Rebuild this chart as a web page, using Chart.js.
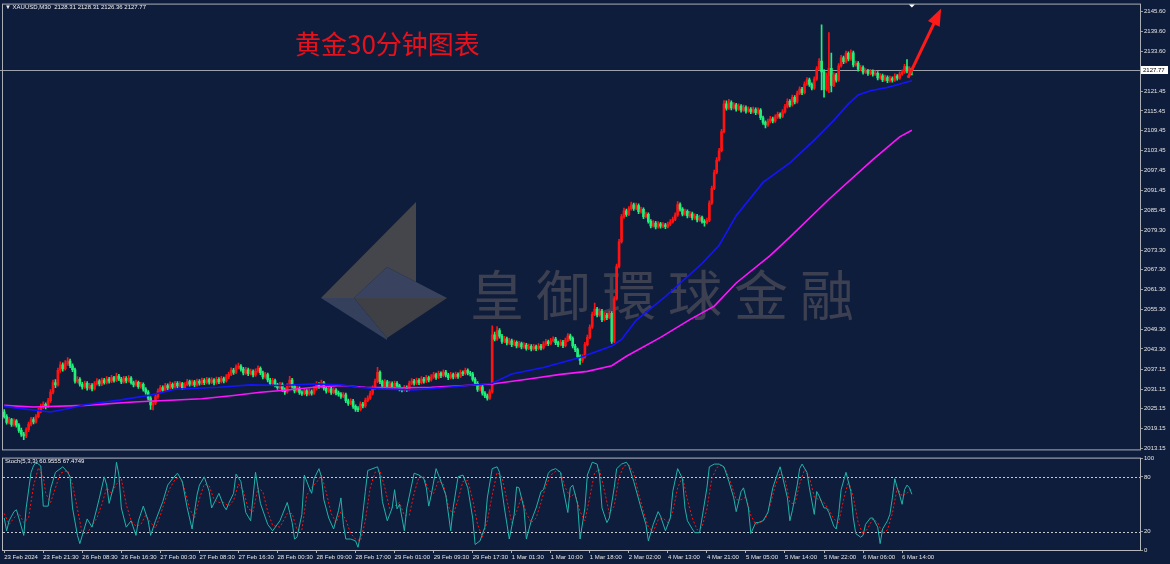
<!DOCTYPE html>
<html lang="zh">
<head>
<meta charset="utf-8">
<title>XAUUSD M30</title>
<script src="https://cdn.jsdelivr.net/npm/chart.js@4.4.0/dist/chart.umd.min.js"></script>
<style>
  html, body { margin: 0; padding: 0; }
  body { width: 1170px; height: 564px; background: #0f1d3c; position: relative; overflow: hidden; font-family: "Liberation Sans", Arial, sans-serif; }
  #logo { position: absolute; left: 0; top: 0; }
  .marca { position: absolute; left: 470px; top: 266px; font: 54px/54px "Noto Sans CJK TC", "Noto Sans CJK SC", sans-serif; letter-spacing: 12px; color: #3d4051; white-space: nowrap; }
  .titulo { position: absolute; left: 295px; top: 30px; font: 26px/26px "Noto Sans CJK SC", sans-serif; color: #e8101a; white-space: nowrap; }
  .info { position: absolute; color: #f0f0f0; font-size: 6px; line-height: 8px; white-space: nowrap; }
  canvas { position: absolute; left: 0; }
  #cPrecio { top: 0; }
  #cStoch { top: 454px; }
</style>
</head>
<body>
<svg id="logo" width="1170" height="564">
  <polygon points="416,202 416,282 387,267 354,298 321,298" fill="#45464c"/>
  <polygon points="387,267 447,298 354,298" fill="#394360"/>
  <polygon points="354,298 447,298 387,338" fill="#3f4045"/>
  <polygon points="321,298 354,298 387,338 387,340" fill="#35405c"/>
</svg>
<div class="marca">皇御環球金融</div>
<canvas id="cPrecio" width="1170" height="454"></canvas>
<canvas id="cStoch" width="1170" height="110"></canvas>
<div class="titulo">黄金30分钟图表</div>
<div class="info" style="left:5px;top:3px">▼ XAUUSD,M30&nbsp; 2128.31 2128.31 2126.36 2127.77</div>
<div class="info" style="left:5px;top:457px">Stoch(5,3,3) 60.9555 67.4749</div>
<script>
// --- DATOS ---
// velas M30: [apertura, máximo, mínimo, cierre]
const velas = [
  [2024.2,2024.9,2022.3,2022.8],[2022.8,2023.4,2020.5,2021.0],[2021.0,2022.6,2020.6,2021.9],[2021.9,2022.3,2019.8,2020.4],
  [2020.4,2022.1,2019.9,2021.5],[2021.5,2021.9,2019.6,2020.2],[2020.2,2020.7,2018.0,2018.6],[2018.6,2019.3,2016.8,2017.5],
  [2017.5,2018.0,2015.8,2016.9],[2016.9,2019.4,2016.4,2018.8],[2018.8,2021.1,2018.2,2020.5],[2020.5,2022.6,2020.0,2021.9],
  [2021.9,2022.5,2020.6,2021.2],[2021.2,2023.4,2020.8,2022.8],[2022.8,2025.3,2022.4,2024.6],[2024.6,2026.6,2024.0,2025.8],
  [2025.8,2027.3,2025.2,2026.5],[2026.5,2027.0,2025.1,2025.9],[2025.9,2028.3,2025.5,2027.6],[2027.6,2031.0,2027.1,2030.2],
  [2030.2,2033.9,2029.7,2033.1],[2033.1,2034.0,2031.6,2032.4],[2032.4,2037.5,2032.0,2036.8],[2036.8,2039.4,2036.2,2038.5],
  [2038.5,2039.1,2036.6,2037.3],[2037.3,2039.8,2036.9,2038.9],[2038.9,2040.7,2038.3,2039.6],[2039.6,2040.2,2037.6,2038.2],
  [2038.2,2038.8,2036.4,2037.0],[2037.0,2037.5,2032.9,2033.5],[2033.5,2034.9,2033.0,2034.1],[2034.1,2034.6,2032.0,2032.6],
  [2032.6,2033.2,2031.1,2031.8],[2031.8,2033.6,2031.3,2032.9],[2032.9,2033.4,2030.8,2031.5],[2031.5,2032.9,2031.0,2032.3],
  [2032.3,2032.8,2030.6,2031.2],[2031.2,2033.4,2030.8,2032.8],[2032.8,2034.3,2032.3,2033.6],[2033.6,2034.0,2032.1,2032.7],
  [2032.7,2034.5,2032.2,2033.9],[2033.9,2034.4,2032.6,2033.1],[2033.1,2034.9,2032.7,2034.2],[2034.2,2034.7,2032.9,2033.5],
  [2033.5,2035.3,2033.1,2034.6],[2034.6,2035.0,2033.2,2033.8],[2033.8,2036.0,2033.4,2035.1],[2035.1,2035.6,2033.7,2034.2],
  [2034.2,2034.7,2032.8,2033.3],[2033.3,2035.0,2032.9,2034.4],[2034.4,2034.9,2033.0,2033.6],[2033.6,2035.2,2033.2,2034.5],
  [2034.5,2034.9,2032.6,2033.1],[2033.1,2033.6,2031.8,2032.4],[2032.4,2033.9,2032.0,2033.2],[2033.2,2033.6,2031.3,2031.9],
  [2031.9,2033.2,2031.4,2032.6],[2032.6,2033.0,2030.5,2031.1],[2031.1,2031.6,2029.6,2030.2],[2030.2,2030.7,2027.8,2028.4],
  [2028.4,2028.9,2025.0,2026.3],[2026.3,2027.6,2024.8,2026.9],[2026.9,2029.4,2026.4,2028.8],[2028.8,2031.2,2028.3,2030.5],
  [2030.5,2032.3,2030.0,2031.6],[2031.6,2032.1,2030.2,2030.8],[2030.8,2032.9,2030.4,2032.2],[2032.2,2032.7,2030.9,2031.5],
  [2031.5,2033.3,2031.1,2032.6],[2032.6,2033.0,2031.1,2031.7],[2031.7,2033.5,2031.3,2032.9],[2032.9,2033.4,2031.5,2032.1],
  [2032.1,2033.4,2031.7,2032.8],[2032.8,2033.2,2031.0,2031.6],[2031.6,2033.1,2031.2,2032.5],[2032.5,2034.1,2032.1,2033.4],
  [2033.4,2033.9,2032.0,2032.6],[2032.6,2033.9,2032.2,2033.3],[2033.3,2033.8,2031.9,2032.4],[2032.4,2034.2,2032.0,2033.5],
  [2033.5,2034.0,2032.3,2032.9],[2032.9,2034.5,2032.5,2033.8],[2033.8,2034.3,2032.5,2033.1],[2033.1,2034.7,2032.7,2034.0],
  [2034.0,2034.5,2032.6,2033.2],[2033.2,2034.6,2032.8,2033.9],[2033.9,2034.3,2032.4,2033.0],[2033.0,2034.8,2032.6,2034.1],
  [2034.1,2034.6,2032.8,2033.4],[2033.4,2035.0,2033.0,2034.3],[2034.3,2034.8,2033.0,2033.6],[2033.6,2035.5,2033.2,2034.8],
  [2034.8,2036.3,2034.3,2035.6],[2035.6,2037.6,2035.2,2036.9],[2036.9,2037.4,2035.6,2036.2],[2036.2,2038.5,2035.8,2037.8],
  [2037.8,2039.0,2037.3,2038.1],[2038.1,2038.6,2036.6,2037.2],[2037.2,2037.7,2035.4,2036.0],[2036.0,2037.7,2035.6,2037.0],
  [2037.0,2037.5,2035.2,2035.8],[2035.8,2037.2,2035.4,2036.5],[2036.5,2037.0,2034.8,2035.4],[2035.4,2037.3,2035.0,2036.6],
  [2036.6,2038.2,2036.2,2037.4],[2037.4,2037.9,2035.5,2036.1],[2036.1,2036.6,2034.2,2034.8],[2034.8,2036.2,2034.4,2035.5],
  [2035.5,2036.0,2033.3,2033.9],[2033.9,2034.4,2032.2,2032.8],[2032.8,2034.4,2032.4,2033.7],[2033.7,2034.2,2031.8,2032.4],
  [2032.4,2032.9,2031.0,2031.6],[2031.6,2033.2,2031.2,2032.5],[2032.5,2033.0,2030.4,2031.0],[2031.0,2031.5,2029.5,2030.3],
  [2030.3,2032.8,2029.9,2032.1],[2032.1,2035.0,2031.7,2033.9],[2033.9,2034.4,2031.4,2032.0],[2032.0,2032.5,2030.0,2030.6],
  [2030.6,2032.0,2030.2,2031.3],[2031.3,2031.8,2029.5,2030.1],[2030.1,2030.6,2029.2,2029.8],[2029.8,2031.3,2029.4,2030.6],
  [2030.6,2031.0,2029.1,2029.7],[2029.7,2031.1,2029.3,2030.4],[2030.4,2030.9,2029.3,2029.9],[2029.9,2031.9,2029.5,2031.2],
  [2031.2,2033.4,2030.8,2032.6],[2032.6,2033.1,2031.3,2031.9],[2031.9,2033.9,2031.5,2033.0],[2033.0,2033.5,2030.8,2031.4],
  [2031.4,2031.9,2029.9,2030.5],[2030.5,2031.9,2030.1,2031.2],[2031.2,2031.7,2029.5,2030.1],[2030.1,2031.5,2029.7,2030.8],
  [2030.8,2031.3,2029.4,2030.0],[2030.0,2030.5,2029.0,2029.6],[2029.6,2030.1,2028.3,2028.9],[2028.9,2030.1,2028.5,2029.4],
  [2029.4,2029.9,2027.0,2027.6],[2027.6,2028.1,2026.2,2026.8],[2026.8,2028.2,2026.4,2027.5],[2027.5,2028.0,2025.3,2025.9],
  [2025.9,2026.4,2024.4,2025.0],[2025.0,2025.8,2024.3,2024.9],[2024.9,2027.3,2024.5,2026.6],[2026.6,2027.1,2025.4,2026.0],
  [2026.0,2028.4,2025.6,2027.7],[2027.7,2029.1,2027.3,2028.4],[2028.4,2030.5,2028.0,2029.8],[2029.8,2032.1,2029.4,2031.4],
  [2031.4,2034.2,2031.0,2033.5],[2033.5,2037.7,2033.1,2036.2],[2036.2,2036.7,2032.8,2033.4],[2033.4,2033.9,2031.4,2032.0],
  [2032.0,2034.0,2031.6,2033.3],[2033.3,2033.8,2031.0,2031.6],[2031.6,2033.5,2031.2,2032.8],[2032.8,2033.3,2031.1,2031.7],
  [2031.7,2033.6,2031.3,2032.9],[2032.9,2033.4,2031.5,2032.1],[2032.1,2032.6,2030.6,2031.2],[2031.2,2031.7,2030.3,2030.9],
  [2030.9,2032.3,2030.5,2031.6],[2031.6,2032.1,2030.4,2031.0],[2031.0,2033.6,2030.6,2032.9],[2032.9,2034.3,2032.5,2033.6],
  [2033.6,2034.1,2032.3,2032.9],[2032.9,2034.5,2032.5,2033.8],[2033.8,2034.3,2032.5,2033.1],[2033.1,2034.9,2032.7,2034.2],
  [2034.2,2034.7,2032.9,2033.5],[2033.5,2035.3,2033.1,2034.6],[2034.6,2035.1,2033.3,2033.9],[2033.9,2035.5,2033.5,2034.8],
  [2034.8,2036.2,2034.4,2035.5],[2035.5,2036.0,2034.1,2034.7],[2034.7,2036.6,2034.3,2035.9],[2035.9,2036.4,2034.6,2035.2],
  [2035.2,2037.0,2034.8,2036.3],[2036.3,2036.8,2034.8,2035.4],[2035.4,2035.9,2034.0,2034.6],[2034.6,2036.2,2034.2,2035.5],
  [2035.5,2036.0,2034.2,2034.8],[2034.8,2036.3,2034.4,2035.6],[2035.6,2036.1,2034.4,2035.0],[2035.0,2036.9,2034.6,2036.2],
  [2036.2,2036.7,2035.2,2035.8],[2035.8,2037.5,2035.4,2036.8],[2036.8,2037.3,2035.4,2036.0],[2036.0,2036.5,2035.1,2035.7],
  [2035.7,2036.2,2033.5,2034.1],[2034.1,2034.6,2032.3,2032.9],[2032.9,2033.4,2030.4,2031.0],[2031.0,2032.5,2030.6,2031.8],
  [2031.8,2032.3,2029.3,2029.9],[2029.9,2030.4,2028.5,2029.1],[2029.1,2029.6,2027.8,2028.4],[2028.4,2031.0,2028.0,2030.3],
  [2030.3,2050.3,2029.9,2047.6],[2047.6,2048.4,2045.7,2046.3],[2046.3,2050.1,2045.9,2048.9],[2048.9,2049.5,2046.6,2047.2],
  [2047.2,2047.7,2045.0,2045.6],[2045.6,2047.1,2045.2,2046.4],[2046.4,2046.9,2044.5,2045.1],[2045.1,2046.5,2044.7,2045.8],
  [2045.8,2046.3,2044.0,2044.6],[2044.6,2046.0,2044.2,2045.3],[2045.3,2045.8,2043.6,2044.2],[2044.2,2045.6,2043.8,2044.9],
  [2044.9,2045.4,2043.3,2043.9],[2043.9,2045.2,2043.5,2044.5],[2044.5,2045.0,2042.9,2043.5],[2043.5,2044.8,2043.1,2044.1],
  [2044.1,2044.6,2042.7,2043.3],[2043.3,2044.7,2042.9,2044.0],[2044.0,2044.5,2042.8,2043.4],[2043.4,2044.9,2043.0,2044.2],
  [2044.2,2044.7,2043.0,2043.6],[2043.6,2045.5,2043.2,2044.8],[2044.8,2046.2,2044.4,2045.5],[2045.5,2046.0,2044.3,2044.9],
  [2044.9,2046.5,2044.5,2045.8],[2045.8,2047.0,2045.4,2046.3],[2046.3,2046.8,2044.6,2045.2],[2045.2,2045.7,2044.0,2044.6],
  [2044.6,2046.1,2044.2,2045.4],[2045.4,2045.9,2043.7,2044.3],[2044.3,2046.6,2043.9,2045.9],[2045.9,2048.0,2045.5,2047.3],
  [2047.3,2047.8,2045.9,2046.5],[2046.5,2047.0,2043.6,2044.2],[2044.2,2044.7,2042.5,2043.1],[2043.1,2043.6,2040.4,2041.0],
  [2041.0,2041.5,2038.6,2039.8],[2039.8,2041.6,2039.2,2040.9],[2040.9,2045.3,2040.5,2044.6],[2044.6,2047.5,2044.2,2046.8],
  [2046.8,2050.6,2046.4,2049.9],[2049.9,2054.5,2049.5,2053.8],[2053.8,2057.2,2053.4,2055.4],[2055.4,2055.9,2053.0,2053.6],
  [2053.6,2055.5,2053.2,2054.8],[2054.8,2055.3,2051.6,2052.2],[2052.2,2054.3,2051.8,2053.6],[2053.6,2054.1,2052.2,2052.8],
  [2052.8,2054.8,2052.4,2054.1],[2054.1,2054.6,2045.0,2045.6],[2045.6,2059.2,2045.2,2058.5],[2058.5,2069.0,2058.1,2068.3],
  [2068.3,2076.5,2067.9,2075.8],[2075.8,2084.1,2075.4,2083.4],[2083.4,2086.0,2082.9,2085.2],[2085.2,2085.7,2083.5,2084.1],
  [2084.1,2086.5,2083.7,2085.8],[2085.8,2087.8,2085.4,2087.0],[2087.0,2087.5,2085.3,2085.9],[2085.9,2087.5,2085.5,2086.8],
  [2086.8,2087.3,2084.3,2084.9],[2084.9,2086.3,2084.5,2085.6],[2085.6,2086.1,2082.8,2083.4],[2083.4,2084.8,2083.0,2084.1],
  [2084.1,2084.6,2081.4,2082.0],[2082.0,2082.5,2080.0,2080.6],[2080.6,2082.2,2080.2,2081.5],[2081.5,2082.0,2079.7,2080.3],
  [2080.3,2081.9,2079.9,2081.2],[2081.2,2081.7,2079.9,2080.5],[2080.5,2081.6,2080.1,2080.9],[2080.9,2081.4,2079.8,2080.4],
  [2080.4,2081.8,2080.0,2081.1],[2081.1,2082.5,2080.7,2081.8],[2081.8,2083.3,2081.4,2082.6],[2082.6,2084.6,2082.2,2083.9],
  [2083.9,2088.0,2083.5,2087.1],[2087.1,2087.6,2085.1,2085.7],[2085.7,2086.2,2083.6,2084.2],[2084.2,2085.7,2083.8,2085.0],
  [2085.0,2085.5,2083.0,2083.6],[2083.6,2085.0,2083.2,2084.3],[2084.3,2084.8,2082.4,2083.0],[2083.0,2084.3,2082.6,2083.6],
  [2083.6,2084.1,2081.8,2082.4],[2082.4,2083.8,2082.0,2083.1],[2083.1,2083.6,2081.4,2082.0],[2082.0,2082.5,2080.5,2081.6],
  [2081.6,2083.0,2081.2,2082.3],[2082.3,2088.2,2081.9,2087.5],[2087.5,2092.7,2087.1,2092.0],[2092.0,2097.5,2091.6,2096.8],
  [2096.8,2101.3,2096.4,2100.6],[2100.6,2104.1,2100.2,2103.4],[2103.4,2109.9,2103.0,2109.2],[2109.2,2118.6,2108.8,2117.6],
  [2117.6,2118.5,2115.7,2116.3],[2116.3,2119.0,2115.9,2118.0],[2118.0,2118.5,2115.8,2116.4],[2116.4,2118.0,2116.0,2117.3],
  [2117.3,2117.8,2115.4,2116.0],[2116.0,2117.6,2115.6,2116.9],[2116.9,2117.4,2115.1,2115.7],[2115.7,2117.2,2115.3,2116.5],
  [2116.5,2117.0,2114.8,2115.4],[2115.4,2116.7,2115.0,2116.0],[2116.0,2116.5,2114.6,2115.2],[2115.2,2116.6,2114.8,2115.9],
  [2115.9,2116.4,2114.3,2114.9],[2114.9,2116.4,2114.5,2115.7],[2115.7,2116.2,2112.8,2113.4],[2113.4,2113.9,2111.4,2112.0],
  [2112.0,2112.5,2110.3,2111.2],[2111.2,2113.0,2110.8,2112.3],[2112.3,2113.8,2111.9,2113.1],[2113.1,2113.6,2111.8,2112.4],
  [2112.4,2114.3,2112.0,2113.6],[2113.6,2115.1,2113.2,2114.4],[2114.4,2114.9,2113.2,2113.8],[2113.8,2115.9,2113.4,2115.2],
  [2115.2,2117.5,2114.8,2116.8],[2116.8,2119.1,2116.4,2118.4],[2118.4,2118.9,2116.7,2117.3],[2117.3,2120.3,2116.9,2119.6],
  [2119.6,2120.1,2117.6,2118.2],[2118.2,2121.5,2117.8,2120.8],[2120.8,2122.8,2120.4,2122.1],[2122.1,2122.6,2120.4,2121.0],
  [2121.0,2124.3,2120.6,2123.6],[2123.6,2125.6,2123.2,2124.9],[2124.9,2125.4,2122.9,2123.5],[2123.5,2124.0,2121.8,2122.4],
  [2122.4,2125.8,2122.0,2125.1],[2125.1,2128.9,2124.7,2128.2],[2128.2,2131.3,2127.8,2130.6],[2130.6,2141.6,2121.8,2127.3],
  [2127.3,2128.0,2119.6,2122.0],[2122.0,2127.0,2121.5,2126.2],[2126.2,2139.2,2121.0,2128.4],[2128.4,2133.0,2121.2,2123.2],
  [2123.2,2127.1,2122.8,2126.4],[2126.4,2126.9,2124.2,2124.8],[2124.8,2129.8,2124.4,2129.1],[2129.1,2132.3,2128.7,2131.6],
  [2131.6,2132.1,2129.8,2130.4],[2130.4,2133.6,2130.0,2132.9],[2132.9,2133.4,2130.6,2131.2],[2131.2,2134.0,2130.8,2133.1],
  [2133.1,2133.6,2128.8,2129.4],[2129.4,2130.6,2129.0,2129.9],[2129.9,2130.4,2127.5,2128.1],[2128.1,2129.3,2127.7,2128.6],
  [2128.6,2129.1,2126.6,2127.2],[2127.2,2128.3,2126.8,2127.6],[2127.6,2128.1,2126.2,2126.8],[2126.8,2128.1,2126.4,2127.4],
  [2127.4,2127.9,2126.0,2126.6],[2126.6,2127.6,2126.2,2126.9],[2126.9,2127.4,2124.9,2125.5],[2125.5,2126.8,2125.1,2126.1],
  [2126.1,2126.6,2124.3,2124.9],[2124.9,2126.3,2124.5,2125.6],[2125.6,2126.1,2124.0,2124.6],[2124.6,2126.0,2124.2,2125.3],
  [2125.3,2125.8,2124.2,2124.8],[2124.8,2126.7,2124.4,2126.0],[2126.0,2126.5,2124.8,2125.4],[2125.4,2127.3,2125.0,2126.6],
  [2126.6,2127.9,2126.2,2127.2],[2127.2,2129.6,2126.8,2128.9],[2128.9,2131.0,2127.0,2127.6],[2127.6,2128.9,2127.1,2128.31],
  [2128.31,2128.31,2126.36,2127.77]
];

// medias móviles: [barra, precio]
const mediaAzul = [
  [0,2025.9],[7,2025.2],[19,2024.2],[26,2025.2],[33,2026.4],[47,2027.8],[60,2029.3],[70,2031.1],[88,2031.7],
  [101,2032.4],[114,2032.2],[127,2032.7],[138,2032.4],[145,2031.7],[154,2031.2],[168,2030.9],[182,2031.7],
  [190,2032.2],[200,2032.9],[208,2035.7],[221,2037.7],[236,2040.7],[249,2044.2],[253,2046.2],[259,2052.0],
  [271,2059.2],[286,2069.2],[293,2074.7],[300,2083.7],[311,2093.8],[322,2099.7],[332,2106.6],[340,2112.6],
  [346,2117.6],[350,2120.3],[355,2121.6],[362,2122.6],[372,2124.6]
];
const mediaMagenta = [
  [0,2026.2],[12,2025.7],[33,2026.2],[53,2027.2],[81,2028.2],[94,2029.2],[105,2030.2],[115,2030.8],[127,2031.7],
  [138,2032.2],[148,2031.7],[161,2031.5],[175,2031.7],[189,2032.2],[200,2032.7],[215,2034.2],[228,2035.6],
  [239,2036.5],[249,2038.2],[255,2041.1],[269,2046.8],[281,2052.2],[291,2056.3],[300,2063.3],[314,2071.7],
  [322,2077.2],[338,2088.7],[356,2100.7],[367,2107.6],[372,2109.6]
];

// estocástico (5,3,3): [barra, valor]
const stochK = [
  [0,35],[1,21],[2,32],[4,42],[5,44],[6,35],[8,16],[9,46],[11,85],[12,92],[13,96],[15,92],[16,48],[18,48],[19,67],
  [21,85],[24,91],[26,85],[27,80],[28,46],[30,16],[31,7],[34,34],[36,25],[38,46],[39,57],[41,80],[42,71],[43,51],
  [45,71],[46,96],[47,82],[48,46],[50,25],[52,32],[54,16],[55,32],[57,48],[59,32],[60,16],[62,32],[65,53],[67,71],
  [69,78],[71,84],[73,75],[75,46],[77,23],[79,60],[80,71],[82,80],[84,64],[85,46],[88,62],[90,48],[91,44],[92,51],
  [94,62],[95,83],[97,75],[99,41],[101,32],[103,85],[105,51],[108,28],[110,21],[113,32],[116,52],[117,41],[118,30],
  [119,12],[120,14],[122,39],[123,82],[125,68],[126,62],[127,78],[129,89],[130,80],[131,55],[133,35],[135,23],
  [137,43],[138,57],[139,28],[140,12],[142,12],[144,10],[145,3],[146,16],[148,64],[149,87],[152,90],[153,91],
  [154,82],[155,53],[157,32],[159,46],[160,66],[161,45],[162,50],[164,21],[165,46],[168,84],[170,82],[172,78],
  [173,68],[174,48],[175,60],[177,89],[179,75],[181,60],[183,21],[184,46],[186,80],[188,82],[189,75],[190,68],
  [192,35],[193,6],[195,10],[197,25],[198,57],[200,89],[202,91],[203,85],[205,46],[207,12],[209,39],[210,69],
  [211,68],[213,46],[214,12],[216,32],[218,46],[220,64],[221,66],[223,84],[224,87],[226,89],[228,85],[229,68],
  [231,41],[232,68],[233,71],[235,50],[236,12],[238,46],[239,82],[241,96],[243,94],[244,82],[245,46],[247,30],
  [248,35],[250,68],[251,89],[253,94],[255,96],[256,92],[258,75],[261,46],[263,28],[264,10],[266,28],[268,42],
  [269,37],[271,21],[273,35],[274,64],[276,89],[278,78],[279,46],[280,32],[282,23],[283,19],[285,19],[286,35],
  [288,68],[289,91],[291,94],[293,94],[295,91],[297,75],[299,57],[300,42],[302,64],[303,68],[305,46],[306,18],
  [308,30],[309,30],[311,32],[313,41],[315,68],[317,84],[318,91],[319,80],[321,57],[322,32],[323,43],[325,71],
  [326,89],[327,94],[329,85],[330,68],[332,39],[333,64],[334,59],[336,46],[337,46],[338,41],[340,26],[341,23],
  [342,39],[343,66],[345,85],[347,64],[348,35],[349,18],[351,14],[352,16],[353,28],[355,35],[356,35],[358,25],
  [359,7],[360,23],[362,32],[363,39],[364,57],[365,78],[366,68],[367,60],[368,50],[369,66],[370,71],[371,68],
  [372,60.96]
];
const stochD = [
  [0,40],[2,28],[4,35],[6,40],[8,30],[10,35],[12,70],[14,90],[16,80],[17,62],[19,52],[21,68],[23,84],[26,87],
  [28,72],[30,45],[32,18],[34,18],[36,27],[38,35],[40,50],[42,68],[44,62],[46,72],[48,78],[50,50],[52,32],[54,26],
  [56,28],[58,38],[60,30],[62,24],[64,38],[66,55],[68,68],[70,77],[72,80],[74,66],[76,45],[78,35],[80,56],[82,72],
  [84,70],[86,55],[88,52],[90,52],[92,48],[94,54],[96,72],[98,65],[100,45],[102,42],[104,68],[106,64],[108,42],
  [110,27],[113,25],[116,40],[118,40],[120,22],[122,22],[124,60],[126,68],[128,74],[130,82],[132,63],[134,40],
  [136,30],[138,42],[140,33],[142,18],[144,12],[146,10],[148,32],[150,68],[152,85],[154,87],[156,68],[158,45],
  [160,48],[162,52],[164,38],[166,38],[168,62],[170,80],[172,80],[174,65],[176,62],[178,76],[180,72],[182,48],
  [184,38],[186,55],[188,75],[190,76],[192,55],[194,28],[196,14],[198,32],[200,60],[202,85],[204,80],[206,55],
  [208,30],[210,42],[212,58],[214,40],[216,30],[218,35],[220,52],[222,70],[224,82],[226,86],[228,86],[230,68],
  [232,58],[234,62],[236,42],[238,32],[240,58],[242,85],[244,88],[246,65],[248,40],[250,48],[252,80],[254,92],
  [256,93],[258,84],[260,62],[262,42],[264,25],[266,20],[268,33],[270,35],[272,30],[274,42],[276,68],[278,80],
  [280,55],[282,35],[284,22],[286,25],[288,45],[290,78],[292,90],[294,93],[296,86],[298,72],[300,55],[302,55],
  [304,58],[306,38],[308,28],[310,30],[312,34],[314,50],[316,70],[318,84],[320,78],[322,52],[324,50],[326,72],
  [328,88],[330,80],[332,58],[334,55],[336,52],[338,44],[340,34],[342,30],[344,55],[346,75],[348,58],[350,30],
  [352,17],[354,24],[356,34],[358,30],[360,18],[362,22],[364,40],[366,68],[368,59],[370,62],[372,67.47]
];

// eje de tiempo y eje de precios
const etiquetasTiempo = ['23 Feb 2024','23 Feb 21:30','26 Feb 08:30','26 Feb 16:30','27 Feb 00:30','27 Feb 08:30',
  '27 Feb 16:30','28 Feb 00:30','28 Feb 09:00','28 Feb 17:00','29 Feb 01:00','29 Feb 09:30','29 Feb 17:30',
  '1 Mar 01:30','1 Mar 10:00','1 Mar 18:00','2 Mar 02:00','4 Mar 13:00','4 Mar 21:00','5 Mar 05:00',
  '5 Mar 14:00','5 Mar 22:00','6 Mar 06:00','6 Mar 14:00'];
const barrasEtiquetas = [0,16,32,48,64,80,96,112,128,144,160,176,192,208,224,240,256,272,288,304,320,336,352,368];
const ticksPrecio = [2013.15,2019.15,2025.15,2031.15,2037.15,2043.30,2049.30,2055.30,2061.30,2067.30,2073.30,
  2079.30,2085.45,2091.45,2097.45,2103.45,2109.45,2115.45,2121.45,2133.60,2139.60,2145.60];
const ticksStoch = [0,20,80,100];
const nivelesStoch = [20,80];
// flecha roja: [barra, precio]
const flecha = { desde: [370.4, 2125.5], hasta: [384, 2146.5] };

// --- CONFIG ---
Chart.defaults.font.family = '"Liberation Sans", Arial, sans-serif';
Chart.defaults.font.size = 6;
Chart.defaults.color = '#e4e4e4';

const ROJO = '#ff1212', VERDE = '#20f07a';
const colores = velas.map(v => v[3] >= v[0] ? ROJO : VERDE);
const ultimo = velas[velas.length - 1][3];
const xMin = -0.5, xMax = 465.5;

const pluginPrecio = {
  id: 'precio',
  beforeDatasetsDraw(chart) {
    const { ctx, chartArea: a, scales: { y } } = chart;
    const py = Math.round(y.getPixelForValue(ultimo)) + 0.5;
    ctx.save();
    ctx.strokeStyle = '#9ca2ac';
    ctx.lineWidth = 1;
    ctx.beginPath(); ctx.moveTo(0, py); ctx.lineTo(a.right, py); ctx.stroke();
    ctx.restore();
  },
  afterDatasetsDraw(chart) {
    const { ctx, scales: { x, y } } = chart;
    const x1 = x.getPixelForValue(flecha.desde[0]), y1 = y.getPixelForValue(flecha.desde[1]);
    const x2 = x.getPixelForValue(flecha.hasta[0]), y2 = y.getPixelForValue(flecha.hasta[1]);
    const ang = Math.atan2(y2 - y1, x2 - x1);
    const largo = 17, ancho = 6.5;
    const bx = x2 - largo * Math.cos(ang), by = y2 - largo * Math.sin(ang);
    ctx.save();
    ctx.strokeStyle = ctx.fillStyle = '#ff1a1a';
    ctx.lineWidth = 3;
    ctx.beginPath(); ctx.moveTo(x1, y1); ctx.lineTo(bx + 3 * Math.cos(ang), by + 3 * Math.sin(ang)); ctx.stroke();
    ctx.beginPath();
    ctx.moveTo(x2, y2);
    ctx.lineTo(bx + ancho * Math.sin(ang), by - ancho * Math.cos(ang));
    ctx.lineTo(bx - ancho * Math.sin(ang), by + ancho * Math.cos(ang));
    ctx.closePath(); ctx.fill();
    ctx.restore();
  },
  afterDraw(chart) {
    const { ctx, chartArea: a, scales: { x, y } } = chart;
    ctx.save();
    ctx.strokeStyle = '#a9adb4';
    ctx.lineWidth = 1;
    ctx.strokeRect(a.left - 0.5, a.top - 0.5, a.right - a.left + 1, a.bottom - a.top + 1);
    const py = y.getPixelForValue(ultimo);
    ctx.fillStyle = '#ffffff';
    ctx.fillRect(a.right + 1, Math.round(py) - 4, 27, 8);
    ctx.fillStyle = '#000000';
    ctx.font = '6px "Liberation Sans"';
    ctx.textBaseline = 'middle';
    ctx.fillText(ultimo.toFixed(2), a.right + 3, Math.round(py));
    const sx = x.getPixelForValue(velas.length - 1);
    ctx.fillStyle = '#ffffff';
    ctx.beginPath(); ctx.moveTo(sx - 3, a.top); ctx.lineTo(sx + 3, a.top); ctx.lineTo(sx, a.top + 3); ctx.closePath(); ctx.fill();
    ctx.restore();
  }
};

new Chart(document.getElementById('cPrecio'), {
  type: 'bar',
  data: {
    datasets: [
      { type: 'line', data: mediaAzul.map(p => ({ x: p[0], y: p[1] })), borderColor: '#1414ff', borderWidth: 1.6, pointRadius: 0, order: 0 },
      { type: 'line', data: mediaMagenta.map(p => ({ x: p[0], y: p[1] })), borderColor: '#ff14ff', borderWidth: 1.6, pointRadius: 0, order: 0 },
      { data: velas.map((v, i) => ({ x: i, y: [Math.min(v[0], v[3]), Math.max(v[0], v[3])] })), backgroundColor: colores,
        barThickness: 2, grouped: false, minBarLength: 1, order: 1 },
      { data: velas.map((v, i) => ({ x: i, y: [v[2], v[1]] })), backgroundColor: colores,
        barThickness: 1, grouped: false, order: 2 }
    ]
  },
  options: {
    responsive: false, animation: false, devicePixelRatio: 1, events: [],
    layout: { padding: { left: 3, top: 3, right: 0, bottom: 1 } },
    plugins: { legend: { display: false }, tooltip: { enabled: false } },
    scales: {
      x: { type: 'linear', min: xMin, max: xMax, offset: false, display: false },
      y: {
        position: 'right', min: 2012.85, max: 2147.70,
        afterFit: s => { s.width = 30; },
        afterBuildTicks: s => { s.ticks = ticksPrecio.map(v => ({ value: v })); },
        ticks: { callback: v => v.toFixed(2), padding: 1, color: '#e4e4e4' },
        grid: { drawOnChartArea: false, tickLength: 3, color: '#9a9a9a' },
        border: { display: false }
      }
    }
  },
  plugins: [pluginPrecio]
});

const pluginStoch = {
  id: 'niveles',
  beforeDatasetsDraw(chart) {
    const { ctx, chartArea: a, scales: { y } } = chart;
    ctx.save();
    ctx.strokeStyle = '#c8ccd2';
    ctx.lineWidth = 1;
    ctx.setLineDash([2, 2]);
    nivelesStoch.forEach(n => {
      const py = Math.round(y.getPixelForValue(n)) + 0.5;
      ctx.beginPath(); ctx.moveTo(a.left, py); ctx.lineTo(a.right, py); ctx.stroke();
    });
    ctx.restore();
  },
  afterDraw(chart) {
    const { ctx, chartArea: a } = chart;
    ctx.save();
    ctx.strokeStyle = '#b4b8be';
    ctx.lineWidth = 1;
    ctx.strokeRect(a.left - 0.5, a.top - 0.5, a.right - a.left + 1, a.bottom - a.top + 1);
    ctx.restore();
  }
};

new Chart(document.getElementById('cStoch'), {
  type: 'line',
  data: {
    datasets: [
      { data: stochK.map(p => ({ x: p[0], y: p[1] })), borderColor: '#20b2aa', borderWidth: 1, pointRadius: 0 },
      { data: stochD.map(p => ({ x: p[0], y: p[1] })), borderColor: '#ff1010', borderWidth: 1, borderDash: [2, 2], pointRadius: 0 }
    ]
  },
  options: {
    responsive: false, animation: false, devicePixelRatio: 1, events: [],
    layout: { padding: { left: 3, top: 2, right: 0, bottom: 0 } },
    plugins: { legend: { display: false }, tooltip: { enabled: false } },
    scales: {
      x: {
        type: 'linear', min: xMin, max: xMax,
        afterFit: s => { s.height = 14; },
        afterBuildTicks: s => { s.ticks = barrasEtiquetas.map(v => ({ value: v })); },
        ticks: { callback: (v, i) => etiquetasTiempo[i], autoSkip: false, maxRotation: 0, minRotation: 0, align: 'start', padding: 1, color: '#e4e4e4' },
        grid: { drawOnChartArea: false, tickLength: 3, color: '#b0b0b0' },
        border: { display: false }
      },
      y: {
        position: 'right', min: 0, max: 100,
        afterFit: s => { s.width = 30; },
        afterBuildTicks: s => { s.ticks = ticksStoch.map(v => ({ value: v })); },
        ticks: { padding: 1, color: '#e4e4e4' },
        grid: { drawOnChartArea: false, tickLength: 3, color: '#9a9a9a' },
        border: { display: false }
      }
    }
  },
  plugins: [pluginStoch]
});
</script>
</body>
</html>
